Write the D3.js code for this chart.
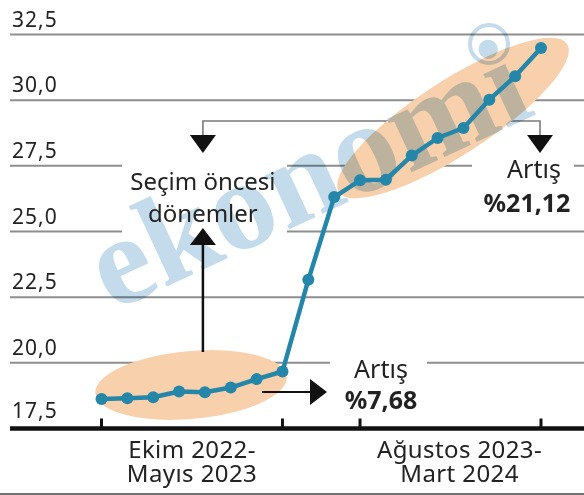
<!DOCTYPE html>
<html>
<head>
<meta charset="utf-8">
<script src="https://cdn.jsdelivr.net/npm/d3@7"></script>
<style>
  body { margin: 0; background: #fff; }
  svg { display: block; font-family: "Noto Sans", sans-serif; }
</style>
</head>
<body>
<script>
// data
var months = ["Eki22", "Kas22", "Ara22", "Oca23", "Şub23", "Mar23", "Nis23", "May23",
              "Haz23", "Tem23", "Ağu23", "Eyl23", "Eki23", "Kas23", "Ara23", "Oca24", "Şub24", "Mar24"];
var values = [18.62, 18.65, 18.69, 18.91, 18.88, 19.06, 19.38, 19.67,
              23.16, 26.31, 26.95, 26.97, 27.89, 28.56, 28.94, 30.02, 30.91, 31.99];
var yTicks = [17.5, 20, 22.5, 25, 27.5, 30, 32.5];
var periodStart = ["Eki22", "Ağu23"];
var periodEnd = ["May23", "Mar24"];
var periodLabels = [["Ekim 2022-", "Mayıs 2023"], ["Ağustos 2023-", "Mart 2024"]];
var noteLabel = ["Seçim öncesi", "dönemler"];
var riseLabels = [["Artış", "%7,68"], ["Artış", "%21,12"]];

var width = 584, height = 495;
var teal = "#2486a8", peach = "#f8d0ab", grid = "#8e8e8e";

var x = d3.scalePoint().domain(months).range([101.5, 541]);
var y = d3.scaleLinear().domain([17.5, 32.5]).range([428.5, 34.5]);
var fmt = function(d) { return d3.format(".1f")(d).replace(".", ","); };

var svg = d3.select("body").append("svg")
    .attr("width", width)
    .attr("height", height);

// gridlines
svg.selectAll(".grid")
    .data(yTicks.slice(1))
  .enter().append("line")
    .attr("class", "grid")
    .attr("x1", 10).attr("x2", width)
    .attr("y1", function(d) { return y(d); })
    .attr("y2", function(d) { return y(d); })
    .attr("stroke", grid)
    .attr("stroke-width", 2);

// y labels
svg.selectAll(".ylab")
    .data(yTicks)
  .enter().append("text")
    .attr("class", "ylab")
    .attr("x", 12)
    .attr("y", function(d, i) { return y(d) - (i ? 8 : 11); })
    .attr("font-size", 21)
    .attr("letter-spacing", 1)
    .attr("fill", "#222")
    .text(fmt);

// white boxes that cut the gridlines behind the notes
var noteX = x("Şub23") - 2;
var boxes = [
  [122, 155, 165, 85],
  [330, 352, 97, 20],
  [472, 156, 102, 18]
];
svg.selectAll(".box")
    .data(boxes)
  .enter().append("rect")
    .attr("x", function(d) { return d[0]; })
    .attr("y", function(d) { return d[1]; })
    .attr("width", function(d) { return d[2]; })
    .attr("height", function(d) { return d[3]; })
    .attr("fill", "#fff");

// bracket from the note to the right period
var rightX = x("Mar24") - 1;
svg.append("path")
    .attr("d", "M" + noteX + "," + 136 + "V121H" + rightX + "V136")
    .attr("fill", "none")
    .attr("stroke", "#7a7a7a")
    .attr("stroke-width", 1.6);

// highlight ellipses
svg.append("ellipse")
    .attr("transform", "translate(191,385) rotate(-5)")
    .attr("rx", 96).attr("ry", 34)
    .attr("fill", peach);
svg.append("ellipse")
    .attr("transform", "translate(453,118) rotate(-33)")
    .attr("rx", 136).attr("ry", 37)
    .attr("fill", peach);

// watermark
var wm = svg.append("g").style("mix-blend-mode", "multiply");
wm.append("text")
    .attr("transform", "translate(112,312) rotate(-25)")
    .attr("font-family", "Liberation Serif, serif")
    .attr("font-weight", "bold")
    .attr("font-size", 128)
    .attr("fill", "#c3dbeb")
    .text("ekonomi");
wm.append("circle")
    .attr("cx", 489).attr("cy", 44).attr("r", 19)
    .attr("fill", "none")
    .attr("stroke", "#c3dbeb")
    .attr("stroke-width", 4);

// x axis
svg.append("line")
    .attr("x1", 10).attr("x2", width)
    .attr("y1", y(17.5)).attr("y2", y(17.5))
    .attr("stroke", "#111")
    .attr("stroke-width", 4.5);

var tickMonths = periodStart.concat(periodEnd);
svg.selectAll(".tick")
    .data(tickMonths)
  .enter().append("line")
    .attr("class", "tick")
    .attr("x1", function(d) { return x(d); })
    .attr("x2", function(d) { return x(d); })
    .attr("y1", y(17.5)).attr("y2", y(17.5) - 10)
    .attr("stroke", "#111")
    .attr("stroke-width", 3);

// period labels
periodLabels.forEach(function(lines, i) {
  var cx = (x(periodStart[i]) + x(periodEnd[i])) / 2 + (i ? 9 : 0);
  var t = svg.append("text")
      .attr("text-anchor", "middle")
      .attr("font-size", 24)
      .attr("letter-spacing", 0.4)
      .attr("fill", "#222");
  lines.forEach(function(s, j) {
    t.append("tspan").attr("x", cx).attr("y", 458 + j * 24).text(s);
  });
});

// note text and arrows
var note = svg.append("text")
    .attr("text-anchor", "middle")
    .attr("font-size", 24)
    .attr("fill", "#222");
noteLabel.forEach(function(s, j) {
  note.append("tspan").attr("x", noteX).attr("y", 190 + j * 32).text(s);
});

function tri(cx, tipY, baseY, half) {
  return "M" + (cx - half) + "," + baseY + "L" + (cx + half) + "," + baseY + "L" + cx + "," + tipY + "Z";
}
svg.append("path").attr("d", tri(noteX, 153, 135, 13)).attr("fill", "#111");
svg.append("path").attr("d", tri(rightX, 153, 135, 13)).attr("fill", "#111");
svg.append("path").attr("d", tri(noteX, 228, 245, 13)).attr("fill", "#111");
svg.append("line")
    .attr("x1", noteX).attr("x2", noteX)
    .attr("y1", 244).attr("y2", 352)
    .attr("stroke", "#111")
    .attr("stroke-width", 2.5);

// right arrow to %7,68
svg.append("line")
    .attr("x1", 262).attr("x2", 312)
    .attr("y1", 392).attr("y2", 392)
    .attr("stroke", "#111")
    .attr("stroke-width", 2);
svg.append("path")
    .attr("d", "M310,379L327,392L310,405Z")
    .attr("fill", "#111");

// rise labels
var risePos = [[381, 378, 409], [527, 178, 212]];
riseLabels.forEach(function(lines, i) {
  var p = risePos[i];
  svg.append("text")
      .attr("x", p[0] + (i ? 7 : 0)).attr("y", p[1])
      .attr("text-anchor", "middle")
      .attr("font-size", 25)
      .attr("fill", "#222")
      .text(lines[0]);
  svg.append("text")
      .attr("x", p[0]).attr("y", p[2])
      .attr("text-anchor", "middle")
      .attr("font-size", 25)
      .attr("font-weight", "bold")
      .attr("fill", "#222")
      .text(lines[1]);
});

// series line and points
var line = d3.line()
    .x(function(d, i) { return x(months[i]); })
    .y(function(d) { return y(d); });

svg.append("path")
    .datum(values)
    .attr("d", line)
    .attr("fill", "none")
    .attr("stroke", teal)
    .attr("stroke-width", 4.5)
    .attr("stroke-linejoin", "round");

svg.selectAll(".pt")
    .data(values)
  .enter().append("circle")
    .attr("class", "pt")
    .attr("cx", function(d, i) { return x(months[i]); })
    .attr("cy", function(d) { return y(d); })
    .attr("r", 6)
    .attr("fill", teal);

// thin frame line at the bottom
svg.append("line")
    .attr("x1", 0).attr("x2", width)
    .attr("y1", 494).attr("y2", 494)
    .attr("stroke", "#444")
    .attr("stroke-width", 1.5);
</script>
</body>
</html>
